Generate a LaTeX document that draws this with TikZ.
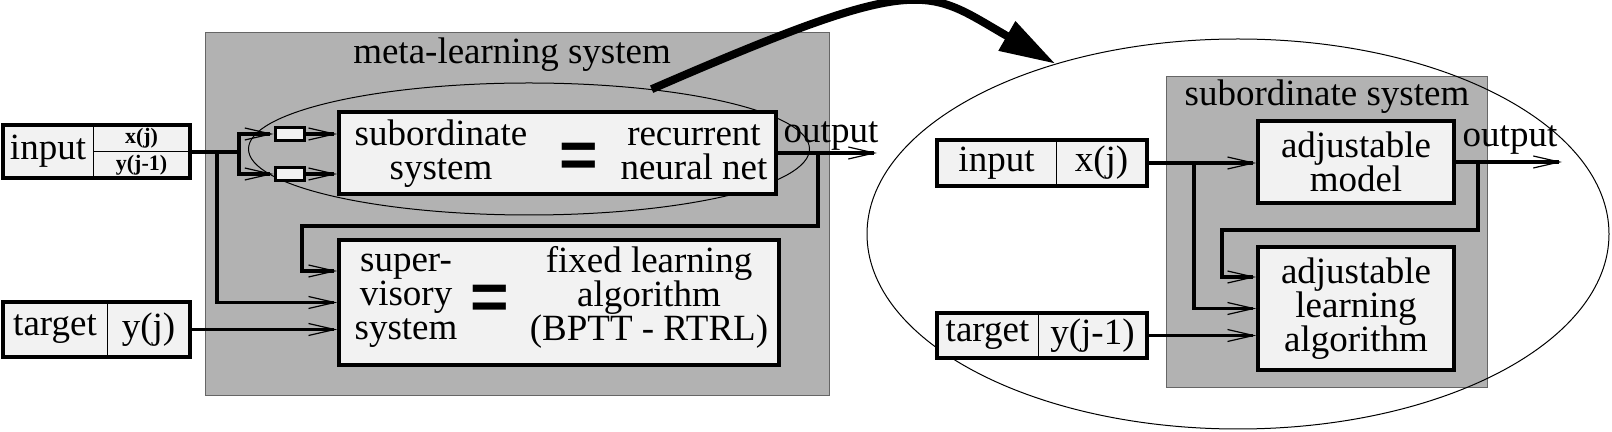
\documentclass[tikz,border=0pt]{standalone}
\usepackage{fontspec}
\setmainfont{Liberation Serif}
\setsansfont{Liberation Sans}
\usetikzlibrary{positioning,arrows.meta,shapes.geometric}

\tikzset{
  txt/.style={align=center, font=\fontsize{18.5}{17}\selectfont, inner sep=0pt},
  cell/.style={draw, line width=0.5pt, fill=black!5, inner sep=0pt, outer sep=0pt, font=\fontsize{18.5}{17}\selectfont},
  smallcell/.style={cell, font=\fontsize{11}{12}\selectfont\bfseries},
  block/.style={draw, line width=1.8pt, fill=black!5, inner sep=0pt, align=center, font=\fontsize{18.5}{17}\selectfont},
  shade/.style={draw=black!60, line width=0.5pt, fill=black!30, inner sep=0pt},
  frame/.style={draw, line width=1.8pt},
  wire/.style={line width=1.8pt},
  feed/.style={wire, -{Straight Barb[length=13pt,width=6pt,line width=0.6pt]}},
  eq/.style={font=\fontsize{33}{33}\selectfont\sffamily\bfseries, inner sep=0pt},
  lens/.style={draw, ellipse, line width=0.5pt, inner sep=0pt}
}

\begin{document}
\begin{tikzpicture}[x=0.5pt, y=-0.5pt]
\useasboundingbox (0,0) rectangle (1612,432);

\node[shade, minimum width=312pt, minimum height=181.5pt] (metabox) at (517,214.5) {};
\node[txt] (metatitle) at (512,55) {meta-learning system};
\node[shade, minimum width=160.5pt, minimum height=155.5pt] (subbox) at (1326.5,232.5) {};
\node[txt] (subtitle) at (1327,97) {subordinate system};

\node[lens, minimum width=280.5pt, minimum height=66pt] (focus) at (529,149) {};
\node[lens, minimum width=371pt, minimum height=195pt] (zoomview) at (1238,234) {};

\node[cell, minimum width=45pt, minimum height=26.5pt] (inlabel) at (48,151.5) {input};
\node[smallcell, minimum width=48.5pt, minimum height=13.5pt] (inx) at (141.5,138.5) {x(j)};
\node[smallcell, minimum width=48.5pt, minimum height=13pt] (iny) at (141.5,165) {y(j-1)};
\draw[frame] (inlabel.north west) rectangle (iny.south east);

\node[cell, minimum width=52pt, minimum height=27.5pt] (tglabel) at (55,329.5) {target};
\node[cell, minimum width=41.5pt, minimum height=27.5pt] (tgy) at (148.5,329.5) {y(j)};
\draw[frame] (tglabel.north west) rectangle (tgy.south east);

\node[block, line width=1.5pt, minimum width=14.5pt, minimum height=6.5pt] (gateA) at (289.5,134) {};
\node[block, line width=1.5pt, minimum width=14.5pt, minimum height=6.5pt] (gateB) at (289.5,174) {};

\node[block, minimum width=218.5pt, minimum height=41pt] (rnn) at (557.5,153) {};
\node[txt] (rnnleft) at (441,154) {subordinate\\system};
\node[eq] (rnneq) at (579,160) {=};
\node[txt] (rnnright) at (694,152) {recurrent\\neural net};

\node[block, minimum width=220pt, minimum height=62.5pt] (supervisor) at (559,302.5) {};
\node[txt] (supleft) at (406,301) {super-\\visory\\system};
\node[eq] (supeq) at (490,302) {=};
\node[txt] (supright) at (649,297) {fixed learning\\algorithm\\(BPTT - RTRL)};

\node[txt] (outL) at (831,136) {output};

\node[cell, minimum width=59.5pt, minimum height=23pt] (rinlabel) at (996.5,163) {input};
\node[cell, minimum width=45.5pt, minimum height=23pt] (rinx) at (1101.5,163) {x(j)};
\draw[frame] (rinlabel.north west) rectangle (rinx.south east);
\node[cell, minimum width=50.5pt, minimum height=22.5pt] (rtglabel) at (987.5,335.5) {target};
\node[cell, minimum width=54.5pt, minimum height=22.5pt] (rtgy) at (1092.5,335.5) {y(j-1)};
\draw[frame] (rtglabel.north west) rectangle (rtgy.south east);

\node[block, minimum width=98pt, minimum height=41pt] (model) at (1356,162) {adjustable\\model};
\node[block, minimum width=98pt, minimum height=61.5pt] (learner) at (1356,308.5) {adjustable\\learning\\algorithm};
\node[txt] (outR) at (1510,140) {output};

\coordinate (splitA) at (239,152);
\coordinate (splitB) at (217,152);
\coordinate (tapL) at (818,153);
\coordinate (bendL) at (302,271);
\coordinate (tipL) at (877,153);
\draw[wire] (inx.south east) -- (splitA);
\draw[feed] (splitA) |- (gateA.west);
\draw[feed] (splitA) |- (gateB.west);
\draw[feed] (gateA.east) -- (gateA.east -| rnn.west);
\draw[feed] (gateB.east) -- (gateB.east -| rnn.west);
\draw[feed] (splitB) |- (supervisor.west);
\draw[feed] (tgy.east) -- (tgy.east -| supervisor.west);
\draw[feed] (rnn.east) -- (tipL);
\draw[feed] (tapL) -- ++(0,73) -| (bendL) -- (bendL -| supervisor.west);

\coordinate (splitR) at (1194,163);
\coordinate (tapR) at (1478,162);
\coordinate (bendR) at (1222,277);
\coordinate (tipR) at (1562,162);
\draw[feed] (rinx.east) -- (rinx.east -| model.west);
\draw[feed] (splitR) |- (learner.west);
\draw[feed] (rtgy.east) -- (rtgy.east -| learner.west);
\draw[feed] (model.east) -- (tipR);
\draw[feed] (tapR) -- ++(0,68) -| (bendR) -- (bendR -| learner.west);

\draw[line width=4pt, -{Triangle[length=28pt,width=16pt]}] (focus.26) .. controls (926,-30) and (925,-11) .. (zoomview.137);

\end{tikzpicture}
\end{document}
